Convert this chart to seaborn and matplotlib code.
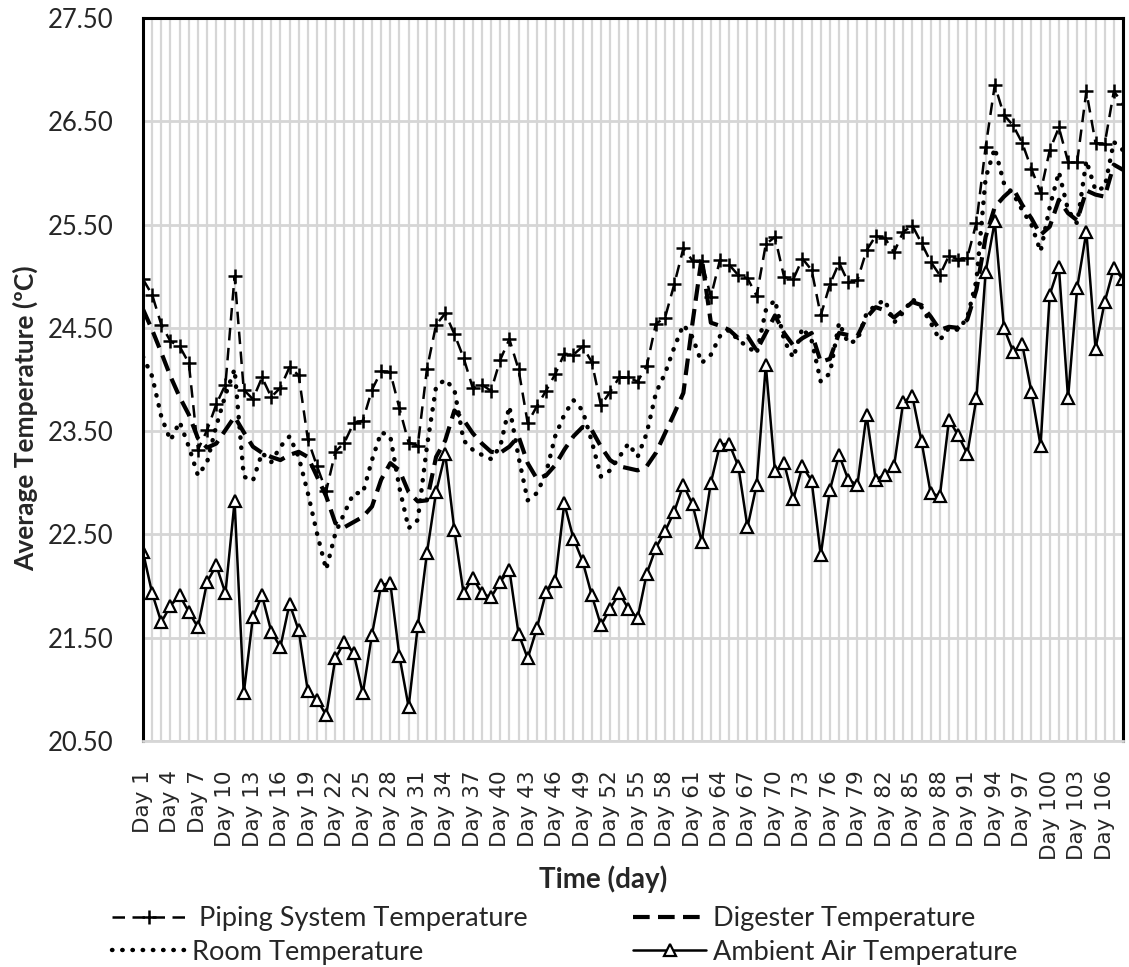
import numpy as np
import pandas as pd
import matplotlib
matplotlib.use("Agg")
import matplotlib.pyplot as plt
import seaborn as sns

# Daily average temperatures, Day 1 .. Day 108
days = [f"Day {d}" for d in range(1, 109)]

piping = [24.97, 24.82, 24.53, 24.37, 24.32, 24.16, 23.32, 23.51, 23.76, 23.95,
          25.00, 23.90, 23.81, 24.02, 23.83, 23.92, 24.12, 24.04, 23.42, 23.16,
          22.92, 23.30, 23.39, 23.58, 23.60, 23.90, 24.08, 24.07, 23.72, 23.39,
          23.36, 24.10, 24.53, 24.64, 24.44, 24.21, 23.92, 23.95, 23.89, 24.19,
          24.39, 24.10, 23.58, 23.74, 23.89, 24.05, 24.25, 24.24, 24.32, 24.17,
          23.75, 23.88, 24.02, 24.02, 23.98, 24.13, 24.54, 24.60, 24.92, 25.27,
          25.15, 25.15, 24.80, 25.16, 25.11, 25.01, 24.98, 24.81, 25.31, 25.38,
          24.99, 24.97, 25.17, 25.06, 24.62, 24.92, 25.13, 24.94, 24.96, 25.25,
          25.39, 25.37, 25.23, 25.43, 25.49, 25.32, 25.14, 25.01, 25.20, 25.16,
          25.18, 25.52, 26.25, 26.85, 26.56, 26.46, 26.29, 26.04, 25.81, 26.22,
          26.44, 26.11, 26.11, 26.79, 26.29, 26.28, 26.79, 26.67]

digester = [24.68, 24.48, 24.26, 24.03, 23.83, 23.66, 23.43, 23.34, 23.38, 23.51,
            23.64, 23.49, 23.35, 23.29, 23.25, 23.22, 23.27, 23.30, 23.25, 23.06,
            22.87, 22.61, 22.57, 22.62, 22.67, 22.77, 23.03, 23.19, 23.12, 22.91,
            22.82, 22.83, 23.25, 23.41, 23.70, 23.61, 23.48, 23.38, 23.30, 23.29,
            23.35, 23.45, 23.19, 23.04, 23.07, 23.17, 23.32, 23.45, 23.54, 23.51,
            23.35, 23.22, 23.16, 23.14, 23.12, 23.16, 23.29, 23.48, 23.67, 23.87,
            24.55, 25.18, 24.55, 24.52, 24.48, 24.40, 24.42, 24.28, 24.45, 24.62,
            24.45, 24.33, 24.40, 24.45, 24.17, 24.20, 24.45, 24.43, 24.42, 24.60,
            24.70, 24.67, 24.60, 24.67, 24.75, 24.72, 24.61, 24.48, 24.51, 24.50,
            24.58, 24.87, 25.38, 25.67, 25.77, 25.85, 25.69, 25.56, 25.40, 25.48,
            25.74, 25.61, 25.54, 25.83, 25.79, 25.77, 26.08, 26.03]

room = [24.22, 24.03, 23.64, 23.41, 23.59, 23.35, 23.07, 23.20, 23.55, 23.85,
        24.10, 23.06, 23.02, 23.29, 23.20, 23.35, 23.45, 23.25, 22.90, 22.51,
        22.16, 22.51, 22.71, 22.90, 22.90, 23.22, 23.49, 23.45, 22.95, 22.56,
        22.64, 23.35, 23.93, 24.00, 23.90, 23.41, 23.32, 23.27, 23.23, 23.35,
        23.74, 23.25, 22.83, 22.90, 23.09, 23.45, 23.66, 23.80, 23.70, 23.40,
        23.06, 23.12, 23.25, 23.38, 23.25, 23.48, 23.87, 24.06, 24.31, 24.53,
        24.41, 24.16, 24.24, 24.42, 24.48, 24.38, 24.32, 24.25, 24.67, 24.77,
        24.38, 24.21, 24.50, 24.38, 23.98, 24.06, 24.55, 24.35, 24.38, 24.64,
        24.72, 24.77, 24.55, 24.65, 24.78, 24.70, 24.55, 24.38, 24.50, 24.48,
        24.60, 24.96, 25.95, 26.24, 25.90, 25.80, 25.64, 25.50, 25.24, 25.67,
        26.01, 25.64, 25.51, 26.12, 25.83, 25.86, 26.30, 26.22]

ambient = [22.33, 21.93, 21.65, 21.81, 21.91, 21.75, 21.60, 22.04, 22.20, 21.93,
           22.82, 20.96, 21.70, 21.91, 21.56, 21.41, 21.83, 21.57, 20.98, 20.90,
           20.75, 21.30, 21.46, 21.35, 20.96, 21.53, 22.01, 22.03, 21.32, 20.83,
           21.61, 22.32, 22.91, 23.28, 22.54, 21.93, 22.08, 21.93, 21.89, 22.04,
           22.16, 21.54, 21.30, 21.59, 21.94, 22.05, 22.80, 22.46, 22.24, 21.91,
           21.62, 21.78, 21.93, 21.78, 21.69, 22.12, 22.37, 22.53, 22.72, 22.98,
           22.79, 22.43, 23.00, 23.37, 23.38, 23.16, 22.57, 22.98, 24.14, 23.11,
           23.19, 22.84, 23.16, 23.02, 22.30, 22.93, 23.27, 23.03, 22.98, 23.66,
           23.03, 23.08, 23.16, 23.78, 23.84, 23.40, 22.90, 22.87, 23.61, 23.46,
           23.28, 23.82, 25.04, 25.53, 24.50, 24.27, 24.34, 23.88, 23.36, 24.82,
           25.09, 23.82, 24.89, 25.43, 24.30, 24.75, 25.08, 24.97]

labels = [" Piping System Temperature", "Digester Temperature",
          "Room Temperature", "Ambient Air Temperature"]
y_ticks = [20.5, 21.5, 22.5, 23.5, 24.5, 25.5, 26.5, 27.5]

df = pd.DataFrame({"day": days, "pos": np.arange(len(days)),
                   "piping": piping, "digester": digester,
                   "room": room, "ambient": ambient})

sns.set_theme(style="white")
plt.rcParams["font.family"] = ["Lato", "DejaVu Sans"]

fig = plt.figure(figsize=(11.29, 9.67), dpi=100)
ax = fig.add_axes([143 / 1129, 1 - 741 / 967, (1123 - 143) / 1129, (741 - 18) / 967])

grid_c = "#d6d6d6"
for p in df["pos"]:
    ax.axvline(p, color=grid_c, lw=1.6, zorder=0)
for yv in y_ticks:
    ax.axhline(yv, color=grid_c, lw=2.0, zorder=0)

sns.lineplot(data=df, x="pos", y="piping", ax=ax, color="black", lw=1.8,
             linestyle=(0, (5, 3)), marker="+", markersize=10,
             markeredgewidth=1.8, markeredgecolor="black", label=labels[0])
sns.lineplot(data=df, x="pos", y="digester", ax=ax, color="black", lw=3.0,
             linestyle=(0, (4, 2)), label=labels[1])
sns.lineplot(data=df, x="pos", y="room", ax=ax, color="black", lw=3.2,
             linestyle=(0, (0.1, 2.2)), dash_capstyle="round", label=labels[2])
sns.lineplot(data=df, x="pos", y="ambient", ax=ax, color="black", lw=1.8,
             marker="^", markersize=8, markerfacecolor="white",
             markeredgecolor="black", markeredgewidth=1.6, label=labels[3])

ax.set_xlim(0, len(days) - 1)
ax.set_ylim(20.5, 27.5)
ax.set_yticks(y_ticks)
ax.set_yticklabels([f"{v:.2f}" for v in y_ticks], fontsize=18.5)
tick_pos = df["pos"][::3]
ax.set_xticks(tick_pos)
ax.set_xticklabels(df["day"][::3], rotation=90, fontsize=15.5,
                   family="DejaVu Sans")
ax.tick_params(axis="both", length=0)
ax.tick_params(axis="y", pad=21)
ax.tick_params(axis="x", pad=21)

ax.set_xlabel("Time (day)", fontsize=20, fontweight="bold")
ax.xaxis.set_label_coords((603 - 143) / 980, (741 - 865) / 723)
ax.set_ylabel("Average Temperature (ºC)", fontsize=19, fontweight="bold")
ax.yaxis.set_label_coords((38 - 143) / 980, (741 - 418) / 723)

for side in ["left", "top", "right"]:
    ax.spines[side].set_color("black")
    ax.spines[side].set_linewidth(2.2)
ax.spines["bottom"].set_color(grid_c)
ax.spines["bottom"].set_linewidth(2.0)

ax.get_legend().remove()
handles, labs = ax.get_legend_handles_labels()
order = [0, 2, 1, 3]
fig.legend([handles[i] for i in order], [labs[i] for i in order],
           loc="upper left", bbox_to_anchor=(112 / 1129, 1 - 906 / 967),
           ncol=2, frameon=False, fontsize=19.5, handlelength=2.7,
           handletextpad=0.25, columnspacing=3.9, labelspacing=0.33,
           numpoints=1, borderaxespad=0, borderpad=0)

fig.savefig("out.png", dpi=100)
